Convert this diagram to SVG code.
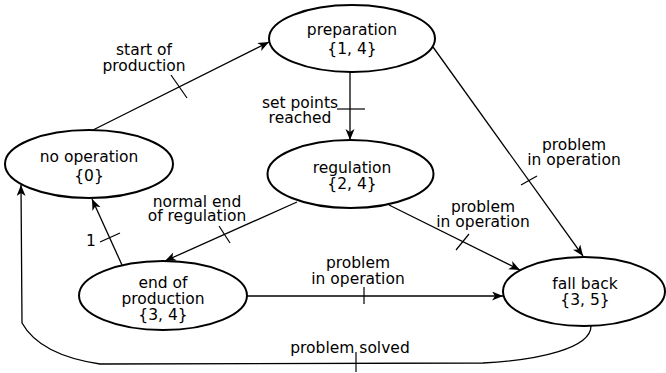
<svg xmlns="http://www.w3.org/2000/svg" width="666" height="373" viewBox="0 0 666 373">
<style>
.node{fill:#fff;stroke:#000;stroke-width:2}
.t{font-family:"DejaVu Sans",sans-serif;font-size:15.5px;fill:#000;text-anchor:middle}
.e{fill:none;stroke:#000;stroke-width:1.3}
.tick{stroke:#000;stroke-width:1.2}
</style>
<defs>
<marker id="arr" markerUnits="userSpaceOnUse" markerWidth="12" markerHeight="10" refX="11" refY="4.5" orient="auto">
<path d="M0,0 L11,4.5 L0,9 L3,4.5 z" fill="#000"/>
</marker>
</defs>
<g id="connectors">
<path class="e" d="M93,130 L269,42" marker-end="url(#arr)"/>
<line class="tick" x1="171" y1="75" x2="187" y2="98"/>
<text class="t" x="144" y="55">start of</text>
<text class="t" x="144" y="70.5">production</text>

<path class="e" d="M350,72 L350,140" marker-end="url(#arr)"/>
<line class="tick" x1="337" y1="109" x2="365" y2="109"/>
<text class="t" x="300" y="108">set points</text>
<text class="t" x="300" y="123">reached</text>

<path class="e" d="M433,47 L583,256" marker-end="url(#arr)"/>
<line class="tick" x1="521" y1="185" x2="537" y2="176"/>
<text class="t" x="574" y="150">problem</text>
<text class="t" x="574" y="165">in operation</text>

<path class="e" d="M297,202 L165,261" marker-end="url(#arr)"/>
<line class="tick" x1="219" y1="226" x2="230" y2="243"/>
<text class="t" x="197" y="207">normal end</text>
<text class="t" x="197" y="221">of regulation</text>

<path class="e" d="M122,265 L92,199" marker-end="url(#arr)"/>
<line class="tick" x1="100" y1="242" x2="120" y2="233"/>
<text class="t" x="91" y="246">1</text>

<path class="e" d="M389,205 L520,270" marker-end="url(#arr)"/>
<line class="tick" x1="456" y1="250" x2="469" y2="234"/>
<text class="t" x="483" y="212">problem</text>
<text class="t" x="483" y="227">in operation</text>

<path class="e" d="M247,296 L503,296" marker-end="url(#arr)"/>
<line class="tick" x1="364" y1="287" x2="364" y2="304"/>
<text class="t" x="358" y="268">problem</text>
<text class="t" x="358" y="284">in operation</text>

<path class="e" d="M591,326 C591,348 540,360 483,363 L100,364 Q40,355 22,323 L21,185" marker-end="url(#arr)"/>
<line class="tick" x1="356" y1="352" x2="356" y2="372"/>
<text class="t" x="350" y="353">problem solved</text>
</g>
<g id="preparation">
<ellipse class="node" cx="352" cy="38.5" rx="83" ry="33.5"/>
<text class="t" x="352" y="35">preparation</text>
<text class="t" x="352" y="54">{1, 4}</text>
</g>
<g id="no_operation">
<ellipse class="node" cx="89" cy="164" rx="84" ry="34"/>
<text class="t" x="89" y="162">no operation</text>
<text class="t" x="89" y="181">{0}</text>
</g>
<g id="regulation">
<ellipse class="node" cx="350.5" cy="174" rx="83" ry="34"/>
<text class="t" x="352" y="173">regulation</text>
<text class="t" x="352" y="189">{2, 4}</text>
</g>
<g id="end_of_production">
<ellipse class="node" cx="163" cy="295.5" rx="84" ry="34.5"/>
<text class="t" x="163" y="288">end of</text>
<text class="t" x="163" y="304">production</text>
<text class="t" x="163" y="320">{3, 4}</text>
</g>
<g id="fall_back">
<ellipse class="node" cx="584" cy="291.5" rx="81" ry="34.5"/>
<text class="t" x="585" y="289">fall back</text>
<text class="t" x="585" y="305">{3, 5}</text>
</g>
</svg>
